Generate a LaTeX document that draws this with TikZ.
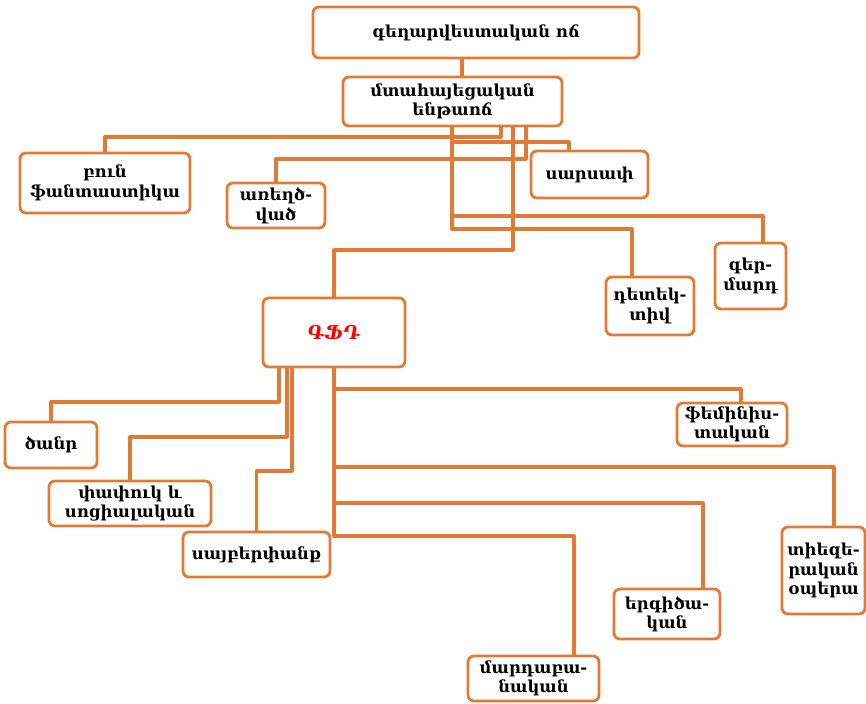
\documentclass[tikz,border=0pt]{standalone}
\usepackage{fontspec}
\setmainfont{DejaVu Serif}
\definecolor{boxorange}{RGB}{224,122,52}
\begin{document}
\begin{tikzpicture}[x=1pt, y=-1pt, line join=round, line cap=round,
		genre/.style={draw=boxorange, line width=2.8pt, rounded corners=6pt, fill=white, align=center,
			inner sep=1pt, font=\fontsize{16.5}{19.5}\selectfont\bfseries},
		link/.style={draw=boxorange, line width=3.2pt, line cap=butt, rounded corners=0pt}]
				\useasboundingbox (0,0) rectangle (866,703);
				% main levels
				\node [genre, minimum width=326pt, minimum height=51pt] (style) at (476,32.5) {գեղարվեստական ոճ};
				\node [genre, minimum width=219pt, minimum height=49pt] (substyle) at (452.5,101.5) {մտահայեցական\\ենթաոճ};
				\node [genre, minimum width=142pt, minimum height=69pt, font=\fontsize{19}{22}\selectfont\bfseries\itshape, text=red] (gfd) at (334,332.5) {ԳՖԴ};
				% kinds of the substyle
				\node [genre, minimum width=170pt, minimum height=60pt] (fantasy) at (105,183) {բուն\\ֆանտաստիկա};
				\node [genre, minimum width=98pt, minimum height=45pt] (mystery) at (276,205.5) {առեղծ-\\ված};
				\node [genre, minimum width=117pt, minimum height=47pt] (horror) at (589.5,174.5) {սարսափ};
				\node [genre, minimum width=88pt, minimum height=58pt] (detective) at (650,306) {դետեկ-\\տիվ};
				\node [genre, minimum width=71pt, minimum height=66pt] (superman) at (750.5,276) {գեր-\\մարդ};
				% kinds of ԳՖԴ
				\node [genre, minimum width=92pt, minimum height=46pt] (hard) at (51,445) {ծանր};
				\node [genre, minimum width=162pt, minimum height=45pt] (soft) at (130,503.5) {փափուկ և\\սոցիալական};
				\node [genre, minimum width=147pt, minimum height=45pt] (cyber) at (256.5,554.5) {սայբերփանք};
				\node [genre, minimum width=110pt, minimum height=43pt] (feminist) at (732,424.5) {ֆեմինիս-\\տական};
				\node [genre, minimum width=83pt, minimum height=87pt] (space) at (823.5,570.5) {տիեզե-\\րական\\օպերա};
				\node [genre, minimum width=106pt, minimum height=50pt] (satire) at (667,614) {երգիծա-\\կան};
				\node [genre, minimum width=131pt, minimum height=45pt] (anthro) at (533.5,678.5) {մարդաբա-\\նական};
				% connectors
				\draw [link] (style.south -| 462,0) -- (substyle.north -| 462,0);
				\draw [link] (substyle.south -| 501,0) -- (501,137) -| (fantasy.north);
				\draw [link] (substyle.south -| 526,0) -- (526,159) -| (mystery.north);
				\draw [link] (substyle.south -| 452,0) -- (452,142) -| (horror.north -| 569,0);
				\draw [link] (substyle.south -| 452,0) -- (452,216) -| (superman.north -| 763,0);
				\draw [link] (substyle.south -| 452,0) -- (452,229) -| (detective.north -| 632,0);
				\draw [link] (substyle.south -| 513,0) -- (513,250) -| (gfd.north);
				\draw [link] (gfd.south -| 279,0) -- (279,402) -| (hard.north);
				\draw [link] (gfd.south -| 287,0) -- (287,437) -| (soft.north);
				\draw [link] (gfd.south -| 292,0) -- (292,471) -| (cyber.north);
				\draw [link] (gfd.south) -- (334,389) -| (feminist.north -| 741,0);
				\draw [link] (gfd.south) -- (334,467) -| (space.north -| 834,0);
				\draw [link] (gfd.south) -- (334,503) -| (satire.north -| 703,0);
				\draw [link] (gfd.south) -- (334,536) -| (anthro.north -| 574,0);
			\end{tikzpicture}
\end{document}
